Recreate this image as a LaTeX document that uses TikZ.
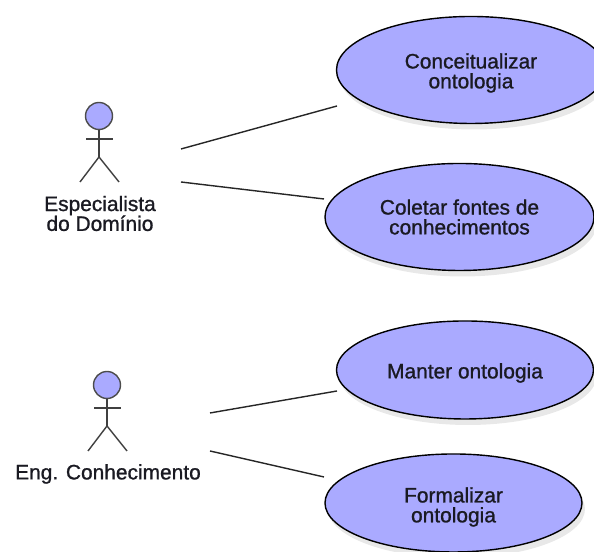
\documentclass[tikz,border=0pt]{standalone}
\usepackage{fontspec}
\newfontfamily\labelfont[FakeBold=1]{Liberation Sans}
\usetikzlibrary{shapes.geometric,shadows}
\definecolor{casefill}{HTML}{AAAAFF}
\definecolor{inkgray}{HTML}{1A1A22}
\tikzset{
  usecase/.style={shape=ellipse, draw=black, thick, fill=casefill, inner sep=0pt,
    minimum width=5.14cm, minimum height=1.96cm,
    drop shadow={shadow xshift=0.06cm, shadow yshift=-0.12cm, opacity=0.09, fill=black}},
  wide/.style={minimum width=5.38cm, minimum height=2.14cm},
  casename/.style={align=center, text=inkgray, inner sep=0pt, font=\labelfont\fontsize{11.9}{11.3}\selectfont},
  head/.style={shape=circle, draw=black!70, thick, fill=casefill, inner sep=0pt, minimum size=0.54cm},
  stick/.style={draw=black!75, thick},
  assoc/.style={draw=black!85, thick}
}
\begin{document}
\begin{tikzpicture}
\useasboundingbox (0,0) rectangle (11.88,11.04);
\node[usecase, wide, label={[casename, yshift=-0.06cm]center:Conceitualizar\\ontologia}] (conceituar) at (9.42,9.64) {};
\node[usecase, wide, label={[casename]center:Coletar fontes de\\conhecimentos}] (coletar) at (9.19,6.70) {};
\node[usecase, label={[casename, yshift=-0.06cm]center:Manter ontologia}] (manter) at (9.30,3.64) {};
\node[usecase, label={[casename, yshift=-0.08cm]center:Formalizar\\ontologia}] (formalizar) at (9.07,0.98) {};
% first actor
\node[head] (head1) at (1.98,8.72) {};
\coordinate (hip1) at (1.98,7.90);
\coordinate (armL1) at (1.72,8.26);
\coordinate (armR1) at (2.26,8.26);
\coordinate (footL1) at (1.60,7.40);
\coordinate (footR1) at (2.38,7.40);
\path [stick] (head1) edge (hip1);
\path [stick] (armL1) edge (armR1);
\path [stick] (hip1) edge (footL1);
\path [stick] (hip1) edge (footR1);
\node[casename] (name1) at (2.00,6.77) {Especialista\\do Domínio};
% second actor
\node[head] (head2) at (2.14,3.34) {};
\coordinate (hip2) at (2.14,2.52);
\coordinate (armL2) at (1.88,2.88);
\coordinate (armR2) at (2.42,2.88);
\coordinate (footL2) at (1.76,2.02);
\coordinate (footR2) at (2.54,2.02);
\path [stick] (head2) edge (hip2);
\path [stick] (armL2) edge (armR2);
\path [stick] (hip2) edge (footL2);
\path [stick] (hip2) edge (footR2);
\node[casename] (name2) at (2.16,1.56) {Eng. Conhecimento};
% associations
\coordinate (from1) at (3.62,8.06);
\coordinate (to1) at (6.74,8.92);
\coordinate (from2) at (3.62,7.40);
\coordinate (to2) at (6.48,7.06);
\coordinate (from3) at (4.20,2.78);
\coordinate (to3) at (6.74,3.22);
\coordinate (from4) at (4.20,2.02);
\coordinate (to4) at (6.48,1.50);
\path [assoc] (from1) edge (to1);
\path [assoc] (from2) edge (to2);
\path [assoc] (from3) edge (to3);
\path [assoc] (from4) edge (to4);
\end{tikzpicture}
\end{document}
